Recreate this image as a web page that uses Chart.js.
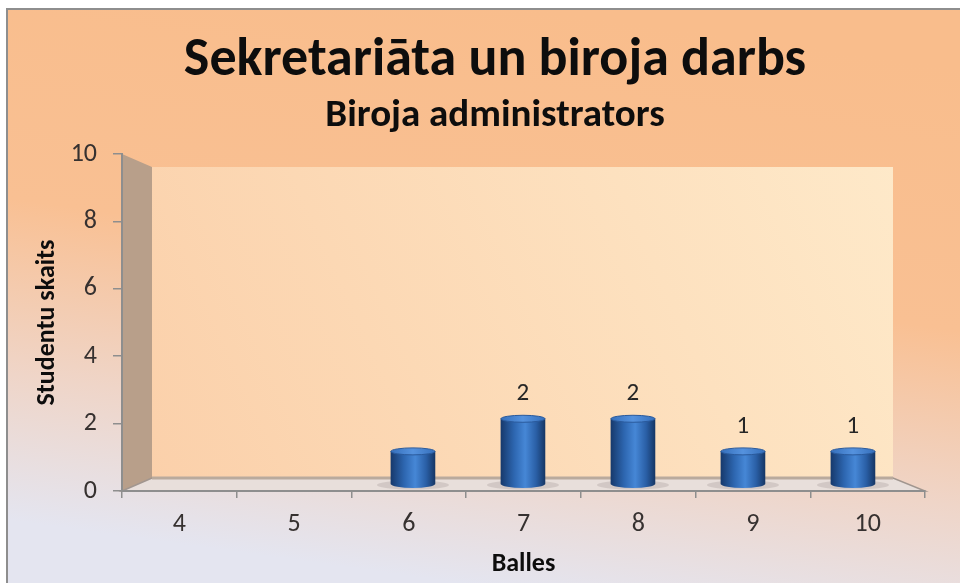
<!DOCTYPE html>
<html>
<head>
<meta charset="utf-8">
<script src="https://cdn.jsdelivr.net/npm/chart.js@4.4.1/dist/chart.umd.min.js"></script>
<style>
  html, body { margin: 0; padding: 0; background: #fff; }
  canvas { display: block; }
</style>
</head>
<body>
<canvas id="gradesChart" width="960" height="583"></canvas>
<script>
// values
const categories = ["4", "5", "6", "7", "8", "9", "10"];
const students = [0, 0, 1, 2, 2, 1, 1];
const showValue = [false, false, false, true, true, true, true];
const yTicks = [0, 2, 4, 6, 8, 10];

const FONT = "Carlito, Calibri, Lato, sans-serif";
const DEPTH_X = 30, DEPTH_Y = 13, BACK_RIGHT = 32;

// background, frame and the 3D walls / floor
const backdrop = {
  id: "backdrop",
  beforeDraw(chart) {
    const { ctx, chartArea: a } = chart;
    ctx.save();
    ctx.fillStyle = "#ffffff";
    ctx.fillRect(0, 0, chart.width, chart.height);

    const bg = ctx.createLinearGradient(540, 9, 460, 583);
    bg.addColorStop(0, "#f9bd8c");
    bg.addColorStop(0.45, "#f9c093");
    bg.addColorStop(0.75, "#efd5c8");
    bg.addColorStop(1, "#e4e5f0");
    ctx.fillStyle = bg;
    ctx.fillRect(7, 9, chart.width - 7, chart.height - 9);

    ctx.strokeStyle = "#8e8e8e";
    ctx.lineWidth = 2;
    ctx.beginPath();
    ctx.moveTo(7, chart.height);
    ctx.lineTo(7, 9);
    ctx.lineTo(chart.width, 9);
    ctx.stroke();

    const L = a.left, R = a.right, T = a.top, B = a.bottom;
    // back wall
    const wall = ctx.createLinearGradient(L + DEPTH_X, B, R - BACK_RIGHT, T);
    wall.addColorStop(0, "#fbd0aa");
    wall.addColorStop(1, "#fee9c9");
    ctx.fillStyle = wall;
    ctx.fillRect(L + DEPTH_X, T + DEPTH_Y, R - BACK_RIGHT - L - DEPTH_X, B - T - 2 * DEPTH_Y);

    // side wall
    ctx.fillStyle = "#b89f8a";
    ctx.beginPath();
    ctx.moveTo(L, T);
    ctx.lineTo(L + DEPTH_X, T + DEPTH_Y);
    ctx.lineTo(L + DEPTH_X, B - DEPTH_Y);
    ctx.lineTo(L, B);
    ctx.closePath();
    ctx.fill();

    // floor
    ctx.fillStyle = "#e8dfdb";
    ctx.strokeStyle = "#a1968f";
    ctx.lineWidth = 1.5;
    ctx.beginPath();
    ctx.moveTo(L, B);
    ctx.lineTo(L + DEPTH_X, B - DEPTH_Y);
    ctx.lineTo(R - BACK_RIGHT, B - DEPTH_Y);
    ctx.lineTo(R, B);
    ctx.closePath();
    ctx.fill();
    ctx.stroke();
    ctx.strokeStyle = "#b9aa9d";
    ctx.lineWidth = 3;
    ctx.beginPath();
    ctx.moveTo(L + DEPTH_X, B - DEPTH_Y);
    ctx.lineTo(R - BACK_RIGHT, B - DEPTH_Y);
    ctx.stroke();
    ctx.restore();
  }
};

// cylinder ends, floor shadows and value labels
const cylinders = {
  id: "cylinders",
  beforeDatasetsDraw(chart) {
    const { ctx } = chart;
    const meta = chart.getDatasetMeta(0);
    ctx.save();
    meta.data.forEach((bar, i) => {
      if (!students[i]) return;
      const w = bar.width;
      ctx.fillStyle = "rgba(110, 100, 100, 0.18)";
      ctx.beginPath();
      ctx.ellipse(bar.x, bar.base + 1, w / 2 + 14, 4.5, 0, 0, Math.PI * 2);
      ctx.fill();
      ctx.fillStyle = bar.options.backgroundColor;
      ctx.beginPath();
      ctx.ellipse(bar.x, bar.base, w / 2, 4, 0, 0, Math.PI * 2);
      ctx.fill();
    });
    ctx.restore();
  },
  afterDatasetsDraw(chart) {
    const { ctx } = chart;
    const meta = chart.getDatasetMeta(0);
    ctx.save();
    meta.data.forEach((bar, i) => {
      if (students[i]) {
        const w = bar.width;
        const top = ctx.createLinearGradient(bar.x - w / 2, 0, bar.x + w / 2, 0);
        top.addColorStop(0, "#3670bc");
        top.addColorStop(0.5, "#5592de");
        top.addColorStop(1, "#3670bc");
        ctx.fillStyle = top;
        ctx.strokeStyle = "#2a5a9c";
        ctx.lineWidth = 1;
        ctx.beginPath();
        ctx.ellipse(bar.x, bar.y, w / 2, 3.5, 0, 0, Math.PI * 2);
        ctx.fill();
        ctx.stroke();
      }
      if (showValue[i]) {
        ctx.fillStyle = "#262626";
        ctx.font = "25px " + FONT;
        ctx.textAlign = "center";
        ctx.textBaseline = "middle";
        ctx.fillText(String(students[i]), bar.x, bar.y - 25);
      }
    });
    ctx.restore();
  }
};

function cylinderFill(c) {
  const chart = c.chart;
  const xs = chart.scales.xb;
  if (!students[c.dataIndex]) return "rgba(0, 0, 0, 0)";
  if (!xs || !chart.chartArea) return "#2f68b2";
  const cx = xs.getPixelForValue(Number(categories[c.dataIndex]));
  const g = chart.ctx.createLinearGradient(cx - 22, 0, cx + 22, 0);
  g.addColorStop(0, "#173a6d");
  g.addColorStop(0.3, "#2d66b0");
  g.addColorStop(0.55, "#4687d6");
  g.addColorStop(0.8, "#2a5fa6");
  g.addColorStop(1, "#163766");
  return g;
}

const ctx = document.getElementById("gradesChart").getContext("2d");
new Chart(ctx, {
  type: "bar",
  data: {
    labels: categories,
    datasets: [
      {
        label: "Studentu skaits",
        data: students.map((v, i) => ({ x: Number(categories[i]), y: v })),
        xAxisID: "xb",
        yAxisID: "yb",
        backgroundColor: cylinderFill,
        borderWidth: 0,
        barThickness: 44,
      },
    ],
  },
  options: {
    responsive: false,
    animation: false,
    // wider left padding moves the titles right, the y axis is squeezed to match
    layout: { padding: { top: 0, left: 65, right: 35, bottom: 0 } },
    plugins: {
      legend: { display: false },
      tooltip: { enabled: false },
      title: {
        display: true,
        text: "Sekretariāta un biroja darbs",
        color: "#0d0d0d",
        font: { family: FONT, size: 54, weight: "bold", lineHeight: 1.0 },
        padding: { top: 34, bottom: 9 },
      },
      subtitle: {
        display: true,
        text: "Biroja administrators",
        color: "#0d0d0d",
        font: { family: FONT, size: 39, weight: "bold", lineHeight: 1.0 },
        padding: { top: 0, bottom: 18 },
      },
    },
    scales: {
      x: {
        type: "category",
        offset: true,
        grid: {
          offset: true,
          drawOnChartArea: false,
          tickLength: 7,
          color: "#8e8e8e",
          lineWidth: 1.5,
        },
        border: { display: true, color: "#8e8e8e", width: 2 },
        ticks: { color: "#363130", padding: 11, font: { family: FONT, size: 26 } },
        title: {
          display: true,
          text: "Balles",
          color: "#0d0d0d",
          font: { family: FONT, size: 26, weight: "bold", lineHeight: 1.0 },
          padding: { top: 0, bottom: 6 },
        },
        afterFit(scale) { scale.height = 92; },
      },
      y: {
        type: "linear",
        min: 0,
        max: 10,
        grid: {
          drawOnChartArea: false,
          tickLength: 9,
          color: "#8e8e8e",
          lineWidth: 1.5,
        },
        border: { display: true, color: "#8e8e8e", width: 2 },
        afterBuildTicks(scale) { scale.ticks = yTicks.map((v) => ({ value: v })); },
        ticks: { color: "#363130", padding: 16, font: { family: FONT, size: 26 } },
        title: {
          display: true,
          text: "Studentu skaits",
          color: "#0d0d0d",
          font: { family: FONT, size: 26, weight: "bold", lineHeight: 1.2 },
          padding: { top: -33, bottom: 0 },
        },
        afterFit(scale) { scale.width = 57; },
      },
      // bars stand at mid-depth of the floor, slightly in perspective
      xb: { type: "linear", axis: "x", display: false, offset: false, min: 3.355, max: 10.655 },
      yb: { type: "linear", axis: "y", display: false, min: -0.215, max: 10.12 },
    },
  },
  plugins: [backdrop, cylinders],
});
</script>
</body>
</html>
